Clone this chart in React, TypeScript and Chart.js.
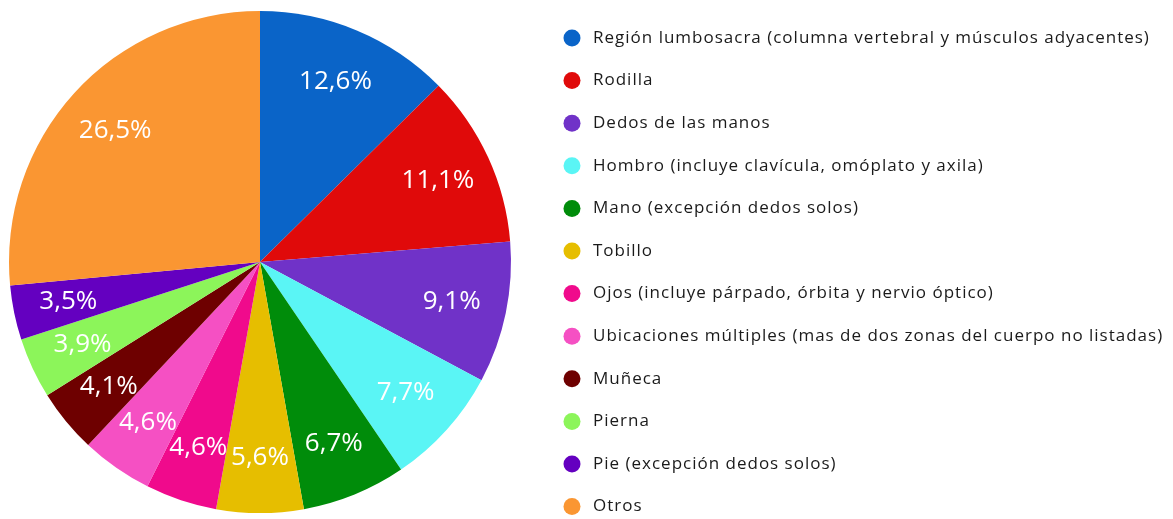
import React, { useEffect, useRef } from "react";
import { Chart, registerables } from "chart.js";

Chart.register(...registerables);

const categories = [
  "Región lumbosacra (columna vertebral y músculos adyacentes)",
  "Rodilla",
  "Dedos de las manos",
  "Hombro (incluye clavícula, omóplato y axila)",
  "Mano (excepción dedos solos)",
  "Tobillo",
  "Ojos (incluye párpado, órbita y nervio óptico)",
  "Ubicaciones múltiples (mas de dos zonas del cuerpo no listadas)",
  "Muñeca",
  "Pierna",
  "Pie (excepción dedos solos)",
  "Otros",
];

const values = [12.6, 11.1, 9.1, 7.7, 6.7, 5.6, 4.6, 4.6, 4.1, 3.9, 3.5, 26.5];

const colors = [
  "#0A64C8",
  "#E00A0A",
  "#7032C8",
  "#5AF5F5",
  "#008C0A",
  "#E6BE00",
  "#F00A8C",
  "#F550C3",
  "#6E0000",
  "#8CF55A",
  "#6400C0",
  "#FA9632",
];

const fmt = (v: number) => v.toFixed(1).replace(".", ",") + "%";

const sliceLabels = {
  id: "sliceLabels",
  afterDatasetsDraw(chart: any) {
    const ctx = chart.ctx;
    const meta = chart.getDatasetMeta(0);
    ctx.save();
    ctx.font = "26px 'Open Sans'";
    ctx.fillStyle = "#ffffff";
    ctx.textAlign = "center";
    ctx.textBaseline = "middle";
    meta.data.forEach((arc: any, i: number) => {
      const p = arc.getProps(["x", "y", "startAngle", "endAngle", "outerRadius"], true);
      const mid = (p.startAngle + p.endAngle) / 2;
      const r = p.outerRadius * 0.78;
      ctx.fillText(fmt(values[i]), p.x + Math.cos(mid) * r, p.y + Math.sin(mid) * r);
    });
    ctx.restore();
  },
};

const sideLegend = {
  id: "sideLegend",
  afterDraw(chart: any) {
    const ctx = chart.ctx;
    const labels = chart.data.labels as string[];
    const bg = chart.data.datasets[0].backgroundColor as string[];
    ctx.save();
    ctx.font = "17px 'Open Sans'";
    (ctx as any).letterSpacing = "1px";
    ctx.textBaseline = "middle";
    ctx.textAlign = "left";
    labels.forEach((lab, i) => {
      const y = 38 + i * 42.6;
      ctx.beginPath();
      ctx.fillStyle = bg[i];
      ctx.arc(572, y, 8.5, 0, Math.PI * 2);
      ctx.fill();
      ctx.fillStyle = "#1a1a1a";
      ctx.fillText(lab, 593, y);
    });
    ctx.restore();
  },
};

export default function App() {
  const ref = useRef<HTMLCanvasElement>(null);
  useEffect(() => {
    if (!ref.current) return;
    const chart = new Chart(ref.current, {
      type: "pie",
      data: {
        labels: categories,
        datasets: [
          {
            data: values,
            backgroundColor: colors,
            borderWidth: 0,
          },
        ],
      },
      options: {
        responsive: false,
        animation: false,
        layout: { padding: { left: 9, top: 11, right: 662, bottom: 6 } },
        plugins: {
          legend: { display: false },
          tooltip: { enabled: false },
        },
      },
      plugins: [sliceLabels, sideLegend],
    });
    return () => chart.destroy();
  }, []);
  return (
    <div style={{ position: "fixed", left: 0, top: 0, width: 1173, height: 519, background: "#fff" }}>
      <canvas ref={ref} width={1173} height={519} />
    </div>
  );
}
